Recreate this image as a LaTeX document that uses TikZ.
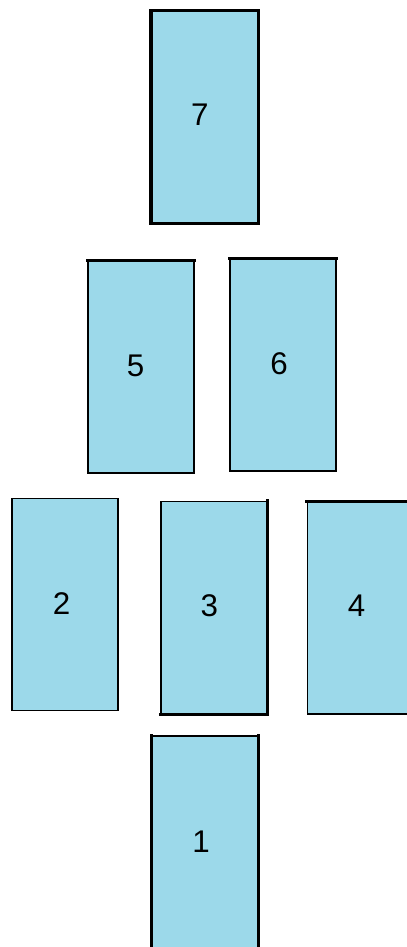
\documentclass[tikz,border=0pt]{standalone}
\usepackage{fontspec}
\setmainfont{Liberation Sans}

\definecolor{cardblue}{HTML}{9CD9EA}

\tikzset{
    card/.style={rectangle, draw=black, line width=1.1pt, fill=cardblue,
        minimum width=79.5pt, minimum height=159pt, inner sep=0pt},
    num/.style={font=\fontsize{23.5}{28}\selectfont, inner sep=0pt},
    heavy/.style={line width=2.6pt, line cap=rect}
}

\begin{document}
\begin{tikzpicture}[x=0.75pt, y=-0.75pt]
    \clip (0,0) rectangle (407,947);
    \useasboundingbox (0,0) rectangle (407,947);

    % cards
    \node[card] (c7) at (204.5, 117) {};
    \node[card] (c5) at (141, 367) {};
    \node[card] (c6) at (283, 365) {};
    \node[card] (c2) at (65, 604.5) {};
    \node[card] (c3) at (214, 607.5) {};
    \node[card] (c4) at (360.5, 608) {};
    \node[card] (c1) at (205, 842) {};

    % numbers
    \node[num] (n7) at ([xshift=-3.5pt,yshift=2pt]c7.center) {7};
    \node[num] (n5) at ([xshift=-4pt,yshift=1pt]c5.center) {5};
    \node[num] (n6) at ([xshift=-3pt,yshift=1pt]c6.center) {6};
    \node[num] (n2) at ([xshift=-2.5pt,yshift=1pt]c2.center) {2};
    \node[num] (n3) at ([xshift=-3.5pt,yshift=1.5pt]c3.center) {3};
    \node[num] (n4) at ([xshift=-3pt,yshift=2pt]c4.center) {4};
    \node[num] (n1) at ([xshift=-3pt]c1.center) {1};

    % heavier edges
    \draw[heavy] (c7.north west) rectangle (c7.south east);
    \draw[heavy] (c5.north west) -- (c5.north east);
    \draw[heavy] (c6.north west) -- (c6.north east);
    \draw[heavy] (c3.north east) -- (c3.south east) -- (c3.south west);
    \draw[heavy] (c4.north west) -- (c4.north east);
    \draw[heavy] (c1.north west) -- (c1.south west);
    \draw[heavy] (c1.north east) -- (c1.south east);
\end{tikzpicture}
\end{document}
